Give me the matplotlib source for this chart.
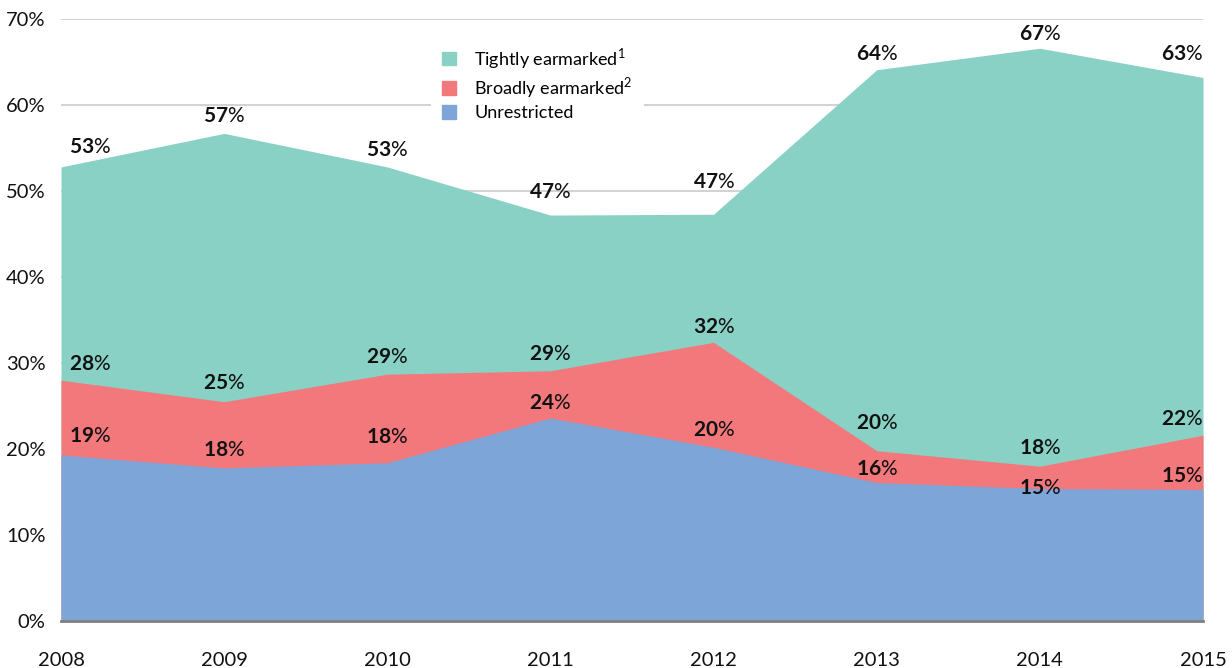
import matplotlib.pyplot as plt
from matplotlib.patches import Patch

years = [2008, 2009, 2010, 2011, 2012, 2013, 2014, 2015]
# cumulative shares (top of each area), percent
unrestricted = [19.3, 17.8, 18.4, 23.6, 20.2, 16.1, 15.4, 15.3]
broadly = [28.0, 25.5, 28.7, 29.1, 32.4, 19.8, 18.0, 21.6]
tightly = [52.8, 56.7, 52.8, 47.2, 47.3, 64.1, 66.6, 63.2]

labels_unres = [19, 18, 18, 24, 20, 16, 15, 15]
labels_broad = [28, 25, 29, 29, 32, 20, 18, 22]
labels_tight = [53, 57, 53, 47, 47, 64, 67, 63]

# label offsets above the vertex, in pixels
off_unres = [19, 18, 26, 15, 17, 14, 1, 13]
off_broad = [16, 19, 17, 17, 15, 28, 18, 16]
off_tight = [20, 17, 17, 23, 32, 16, 14, 23]

TEAL = '#89d1c5'
RED = '#f2787c'
BLUE = '#7da5d7'

plt.rcParams['font.family'] = ['Lato', 'DejaVu Sans']
plt.rcParams['mathtext.fontset'] = 'custom'
plt.rcParams['mathtext.rm'] = 'Lato'
plt.rcParams['mathtext.bf'] = 'Lato:bold'

fig = plt.figure(figsize=(12.32, 6.68), dpi=100)
ax = fig.add_axes([61 / 1232, 47 / 668, 1142 / 1232, 602 / 668])

ax.fill_between(years, 0, tightly, color=TEAL, lw=0, zorder=2)
ax.fill_between(years, 0, broadly, color=RED, lw=0, zorder=3)
ax.fill_between(years, 0, unrestricted, color=BLUE, lw=0, zorder=4)


def put_labels(vals, labs, offs):
    for i, (x, v, lab, off) in enumerate(zip(years, vals, labs, offs)):
        ha = 'center'
        dx = 0
        if i == 0:
            ha = 'left'
            dx = 8
        elif i == len(years) - 1:
            ha = 'right'
        ax.annotate(r'$\mathbf{%d}$%%' % lab, (x, v),
                    xytext=(dx * 0.72, off * 0.72), textcoords='offset points',
                    ha=ha, va='center', fontsize=15, color='#111111', zorder=6)


put_labels(tightly, labels_tight, off_tight)
put_labels(broadly, labels_broad, off_broad)
put_labels(unrestricted, labels_unres, off_unres)

ax.set_xlim(2008, 2015)
ax.set_ylim(0, 70)
ax.set_yticks(range(0, 71, 10))
ax.set_yticklabels(['%d%%' % t for t in range(0, 71, 10)])
ax.set_xticks(years)
ax.tick_params(axis='both', length=0, labelsize=14.5, colors='#111111')
ax.tick_params(axis='y', pad=11)
ax.tick_params(axis='x', pad=22)
ax.grid(axis='y', color='#d3d3d3', lw=1.5, zorder=1)
ax.set_axisbelow(True)
for s in ['top', 'right', 'left']:
    ax.spines[s].set_visible(False)
ax.spines['bottom'].set_color('#7f7f7f')
ax.spines['bottom'].set_linewidth(2)
ax.spines['bottom'].set_zorder(7)

handles = [Patch(color=TEAL, label='Tightly earmarked$^1$'),
           Patch(color=RED, label='Broadly earmarked$^2$'),
           Patch(color=BLUE, label='Unrestricted')]
leg = ax.legend(handles=handles, loc='upper left', bbox_to_anchor=(361 / 1142, 1 - 7 / 602),
                frameon=True, facecolor='white', edgecolor='none', framealpha=1,
                fontsize=13, handlelength=0.8, handleheight=0.8, handletextpad=1.0,
                labelspacing=0.25, borderpad=0.6, fancybox=False)
leg.set_zorder(5)

fig.savefig('out.png', dpi=100)
